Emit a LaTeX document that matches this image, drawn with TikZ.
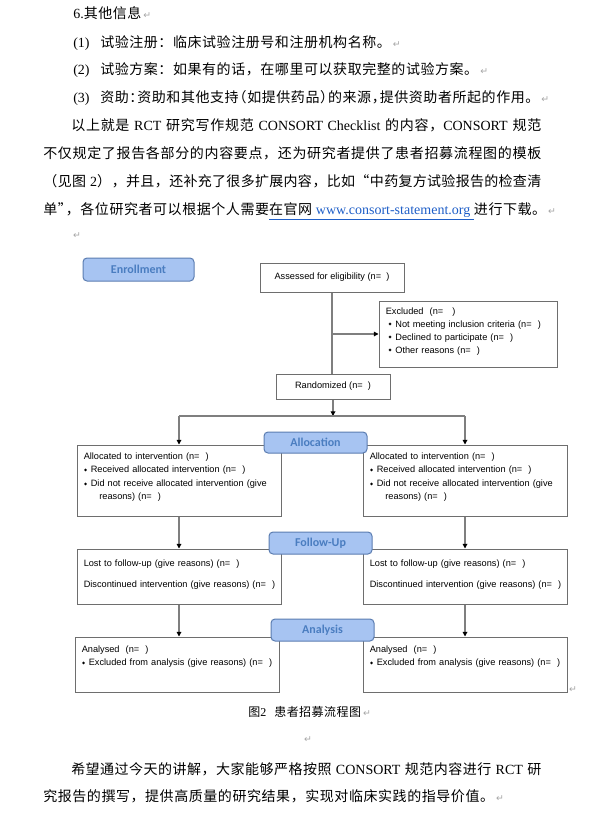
\documentclass[tikz,border=0pt]{standalone}
\usepackage{fontspec}
\usepackage{tikz}
\usetikzlibrary{fit,arrows.meta}

\setmainfont{Liberation Serif}
\newfontfamily\cjk[LetterSpace=4]{Noto Sans CJK SC}
\newfontfamily\arial{Liberation Sans}
\newfontfamily\calibri{Carlito}
\newfontfamily\symf{DejaVu Sans}
\XeTeXlinebreaklocale "zh"
\XeTeXlinebreakskip=0pt plus 1pt minus 0.2pt

\definecolor{stagefill}{HTML}{A7C4F2}
\definecolor{stageline}{HTML}{5B7DB1}
\definecolor{stagetext}{HTML}{4A7DC0}
\definecolor{boxline}{HTML}{6E6E6E}
\definecolor{linkgray}{HTML}{7F7F7F}
\definecolor{pmgray}{HTML}{A6A6A6}
\definecolor{urlblue}{HTML}{1F5FC8}

\newcommand{\en}[1]{{\rmfamily #1}}
\newcommand{\pmark}{\rlap{\hspace{1.5pt}{\symf\color{pmgray}\fontsize{7pt}{7pt}\selectfont ↵}}}
\newcommand{\dia}[1][0.3pt]{\hspace*{#1}\raisebox{0.8pt}{\symf\fontsize{3pt}{3pt}\selectfont ◆}\hspace*{2.7pt}}
\newcommand{\lnk}[2]{{\color{urlblue}\underline{\hbox{\color{black}#1 }\hbox{\en{#2} }}}}

\begin{document}
\begin{tikzpicture}[x=0.75pt, y=-0.75pt,
    every node/.style={inner sep=0pt},
    zhtext/.style={anchor=base west, font=\cjk\fontsize{10.5pt}{20.8pt}\selectfont},
    stagetab/.style={draw=stageline, fill=stagefill, rounded corners=3pt, line width=0.75pt},
    stagelabel/.style={text=stagetext, font=\calibri\bfseries\fontsize{9pt}{11pt}\selectfont},
    plainbox/.style={draw=boxline, fill=white, line width=0.75pt},
    boxlabel/.style={font=\arial\fontsize{6.9pt}{8pt}\selectfont},
    boxtext/.style={anchor=base west, align=left, text width=200pt, font=\arial\fontsize{6.9pt}{10.1pt}\selectfont},
    flowline/.style={draw=linkgray, line width=0.8pt},
    arrowline/.style={flowline, -{Triangle[length=3.5pt, width=3.5pt, color=black]}}]

    % Page
    \fill[white] (0,0) rectangle (604,820);
    \useasboundingbox (0,0) rectangle (604,820);

    % Text above the chart
    \node[zhtext] (sec6) at (73,18.3) {\en{6.}其他信息\pmark};
    \node[zhtext] (item1) at (73,47.3) {\en{(1)}\hspace{8pt}试验注册：临床试验注册号和注册机构名称。\pmark};
    \node[zhtext] (item2) at (73,74.8) {\en{(2)}\hspace{8pt}试验方案：如果有的话，在哪里可以获取完整的试验方案。\pmark};
    \node[zhtext] (item3) at (73,102.8) {\en{(3)}\hspace{8pt}资助：\kern-4.5pt资助和其他支持\kern-4.5pt（如提供药品）\kern-4.5pt的来源，\kern-4.5pt提供资助者所起的作用。\pmark};
    \node[zhtext, text width=373.5pt, align=justify] (para1) at (43,130.8) {\hspace*{21pt}以上就是 \en{RCT} 研究写作规范 \en{CONSORT Checklist} 的内容，\en{CONSORT} 规范\linebreak
        不仅规定了报告各部分的内容要点，还为研究者提供了患者招募流程图的模板\linebreak
        （见图 \en{2}），并且，还补充了很多扩展内容，比如“中药复方试验报告的检查清\linebreak
        \mbox{单”\kern-4.5pt，各位研究者可以根据个人需要\lnk{在官网}{www.consort-statement.org}进行下载。}\pmark};
    \node[font=\symf\fontsize{7pt}{7pt}\selectfont, text=pmgray] (pm1) at (77,236) {↵};

    % Boxes
    \node[plainbox, fit={(260,263) (404,292)}] (assessed) {};
    \node[plainbox, fit={(379,301) (557,367)}] (excluded) {};
    \node[plainbox, fit={(276,374) (390,399)}] (randomized) {};
    \node[plainbox, fit={(77,445) (281,516)}] (allocL) {};
    \node[plainbox, fit={(363,445) (567,516)}] (allocR) {};
    \node[plainbox, fit={(77,549) (281,604)}] (lostL) {};
    \node[plainbox, fit={(363,549) (567,604)}] (lostR) {};
    \node[plainbox, fit={(75,637) (279,692)}] (anaL) {};
    \node[plainbox, fit={(363,637) (567,692)}] (anaR) {};

    % Box texts
    \node[boxlabel] (assessedtext) at (assessed.center) {Assessed for eligibility (n=~~)};
    \node[boxlabel] (randomizedtext) at (randomized.center) {Randomized (n=~~)};
    \node[boxtext, font=\arial\fontsize{6.9pt}{9.75pt}\selectfont] (excludedtext) at ([shift={(7,13.5)}]excluded.north west)
        {Excluded~~(n=~~~)\\ \dia[2.2pt]Not meeting inclusion criteria (n=~~)\\ \dia[2.2pt]Declined to participate (n=~~)\\ \dia[2.2pt]Other reasons (n=~~)};
    \node[boxtext] (allocLtext) at ([shift={(7,15)}]allocL.north west)
        {Allocated to intervention (n=~~)\\ \dia Received allocated intervention (n=~~)\\ \dia Did not receive allocated intervention (give\\ \hspace*{11.7pt}reasons) (n=~~)};
    \node[boxtext] (allocRtext) at ([shift={(7,15)}]allocR.north west)
        {Allocated to intervention (n=~~)\\ \dia Received allocated intervention (n=~~)\\ \dia Did not receive allocated intervention (give\\ \hspace*{11.7pt}reasons) (n=~~)};
    \node[boxtext] (lostLtext) at ([shift={(7,18)}]lostL.north west)
        {Lost to follow-up (give reasons) (n=~~)\\[5.3pt] Discontinued intervention (give reasons) (n=~~)};
    \node[boxtext] (lostRtext) at ([shift={(7,18)}]lostR.north west)
        {Lost to follow-up (give reasons) (n=~~)\\[5.3pt] Discontinued intervention (give reasons) (n=~~)};
    \node[boxtext] (anaLtext) at ([shift={(7,16)}]anaL.north west)
        {Analysed~~(n=~~)\\ \dia Excluded from analysis (give reasons) (n=~~)};
    \node[boxtext] (anaRtext) at ([shift={(7,16)}]anaR.north west)
        {Analysed~~(n=~~)\\ \dia Excluded from analysis (give reasons) (n=~~)};

    % Connectors
    \coordinate (branch) at (333,416);
    \draw[flowline] (assessed.south) -- (assessed.south |- randomized.north);
    \draw[arrowline] (assessed.south |- excluded.west) -- (excluded.west);
    \draw[arrowline] (randomized.south) -- (randomized.south |- branch);
    \draw[flowline] (allocL.north |- branch) -- (allocR.north |- branch);
    \draw[arrowline] (allocL.north |- branch) -- (allocL.north);
    \draw[arrowline] (allocR.north |- branch) -- (allocR.north);
    \draw[arrowline] (allocL.south) -- (lostL.north);
    \draw[arrowline] (allocR.south) -- (lostR.north);
    \draw[arrowline] (lostL.south) -- (lostL.south |- anaL.north);
    \draw[arrowline] (lostR.south) -- (anaR.north);

    % Stage tabs
    \node[stagetab, fit={(83,258) (194,281)}] (enroll) {};
    \node[stagetab, fit={(264,432) (367,453)}] (allocation) {};
    \node[stagetab, fit={(269,532) (372,554)}] (followup) {};
    \node[stagetab, fit={(271,619) (374,641)}] (analysis) {};
    \node[stagelabel] (enrolltext) at (enroll.center) {Enrollment};
    \node[stagelabel] (allocationtext) at (allocation.center) {Allocation};
    \node[stagelabel] (followuptext) at (followup.center) {Follow-Up};
    \node[stagelabel] (analysistext) at (analysis.center) {Analysis};
    \node[font=\symf\fontsize{7pt}{7pt}\selectfont, text=pmgray] (pm2) at (573,690) {↵};

    % Caption and text below
    \node[zhtext, font=\cjk\fontsize{9pt}{12pt}\selectfont] (caption) at (248,716.5) {图\en{2}\hspace{6pt}患者招募流程图\pmark};
    \node[font=\symf\fontsize{7pt}{7pt}\selectfont, text=pmgray] (pm3) at (308,740) {↵};
    \node[zhtext, text width=373.5pt, align=justify] (para2) at (43,774) {\hspace*{21pt}希望通过今天的讲解，大家能够严格按照 \en{CONSORT} 规范内容进行 \en{RCT} 研\linebreak
        \mbox{究报告的撰写，提供高质量的研究结果，实现对临床实践的指导价值。}\pmark};
\end{tikzpicture}
\end{document}
